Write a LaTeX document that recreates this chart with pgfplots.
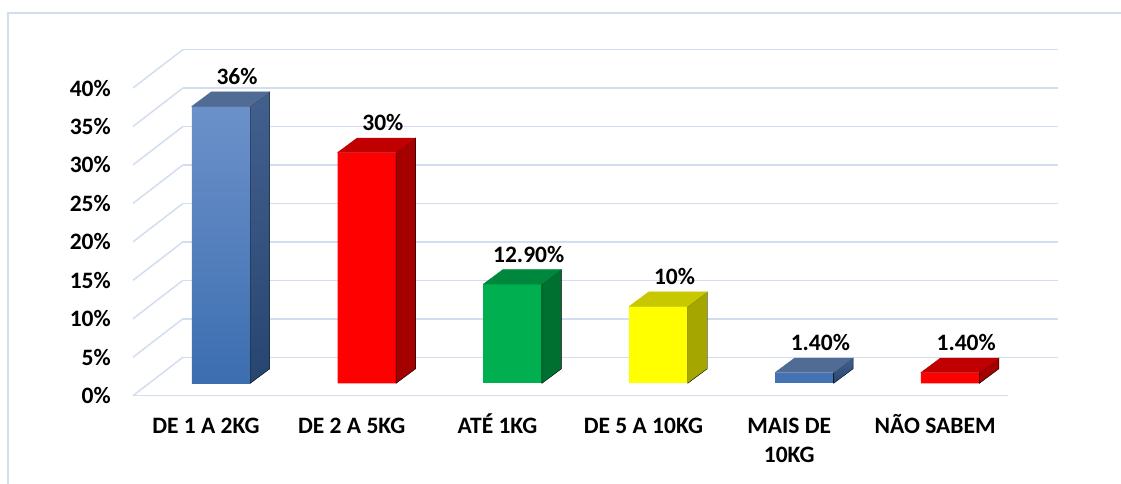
\documentclass[border=0pt]{standalone}
\usepackage{fontspec}
\setmainfont{Carlito}
\usepackage{pgfplots}
\usepackage{pgfplotstable}
\pgfplotsset{compat=1.18}

\definecolor{gridcol}{RGB}{210,222,240}
\definecolor{bfront1}{RGB}{108,145,202}
\definecolor{bfront2}{RGB}{60,110,176}
\definecolor{btop}{RGB}{80,108,148}
\definecolor{bside1}{RGB}{66,96,142}
\definecolor{bside2}{RGB}{38,70,112}
\definecolor{rfront}{RGB}{255,0,0}
\definecolor{rtop}{RGB}{192,0,0}
\definecolor{rside}{RGB}{165,0,0}
\definecolor{gfront}{RGB}{0,176,80}
\definecolor{gtop}{RGB}{0,135,62}
\definecolor{gside}{RGB}{0,112,48}
\definecolor{yfront}{RGB}{255,255,0}
\definecolor{ytop}{RGB}{200,200,0}
\definecolor{yside}{RGB}{166,166,0}

\pgfplotstableread{
x y lab
0 36 36\%
1 30 30\%
2 12.9 12.90\%
3 10 10\%
4 1.4 1.40\%
5 1.4 1.40\%
}\bardata

\pgfdeclareplotmark{bar3d}{%
  \pgfmathsetmacro{\h}{\rawy*7.6925}%
  \pgfmathtruncatemacro{\ci}{round(\rawx)}%
  \ifcase\ci\relax
    \def\tc{btop}\def\sa{bside1}\def\sb{bside2}%
  \or \def\tc{rtop}\def\sa{rside}\def\sb{rside}%
  \or \def\tc{gtop}\def\sa{gside}\def\sb{gside}%
  \or \def\tc{ytop}\def\sa{yside}\def\sb{yside}%
  \or \def\tc{btop}\def\sa{bside1}\def\sb{bside2}%
  \else \def\tc{rtop}\def\sa{rside}\def\sb{rside}%
  \fi
  \shade[top color=\sa, bottom color=\sb] (29.25bp,0bp) -- ++(19.5bp,14.5bp) -- ++(0bp,-\h bp) -- ++(-19.5bp,-14.5bp) -- cycle;
  \fill[\tc] (-29.25bp,0bp) -- (29.25bp,0bp) -- ++(19.5bp,14.5bp) -- ++(-58.5bp,0bp) -- cycle;
}

\newcommand{\st}{\rule{0pt}{20bp}}

\begin{document}
\begin{tikzpicture}[font=\bfseries\fontsize{23.6}{29}\selectfont]
\draw[gridcol, line width=1.5bp] (8bp,-10bp) -- (8bp,471bp) -- (1135bp,471bp);

% back wall
\begin{axis}[at={(183bp,126.7bp)}, anchor=south west, scale only axis,
  width=875bp, height=307.7bp, xmin=-0.5, xmax=5.5, ymin=0, ymax=40,
  xtick=\empty, ytick={0,5,...,40}, yticklabels={},
  ymajorgrids, grid style={gridcol, line width=1.5bp},
  axis line style={draw=none}, major tick length=0pt]
\end{axis}

% front plane: floor line, side diagonals, labels
\begin{axis}[at={(133bp,88.3bp)}, anchor=south west, scale only axis,
  width=875bp, height=307.7bp, xmin=-0.5, xmax=5.5, ymin=0, ymax=40,
  clip=false,
  axis x line*=bottom, axis y line*=left,
  x axis line style={gridcol, line width=1.5bp, -},
  y axis line style={draw=none},
  major tick length=0pt,
  xtick={0,1,2,3,4,5},
  xticklabels={\st DE 1 A 2KG, \st DE 2 A 5KG, \st ATÉ 1KG, \st DE 5 A 10KG, \st MAIS DE\\10KG, \st NÃO SABEM},
  xticklabel style={anchor=north, inner sep=0pt, yshift=-17.7bp, align=center},
  ytick={0,5,...,40},
  yticklabels={0\%,5\%,10\%,15\%,20\%,25\%,30\%,35\%,40\%},
  yticklabel style={anchor=east, inner sep=0pt, xshift=-22bp}]
\pgfplotsinvokeforeach{0,5,...,40}{
  \draw[gridcol, line width=1.5bp] (axis cs:-0.5,#1) -- ++(50bp,38.5bp);
}
\end{axis}

% bars
\begin{axis}[at={(148.1bp,100.7bp)}, anchor=south west, scale only axis,
  width=875bp, height=307.7bp, xmin=-0.5, xmax=5.5, ymin=0, ymax=40,
  hide axis, clip=false]
\addplot[ybar, bar shift=0pt, bar width=58.5bp, draw=none, top color=bfront1, bottom color=bfront2] coordinates {(0,36)};
\addplot[ybar, bar shift=0pt, bar width=58.5bp, draw=none, fill=bfront2!85!bfront1] coordinates {(4,1.4)};
\addplot[ybar, bar shift=0pt, bar width=58.5bp, draw=none, fill=rfront] coordinates {(1,30) (5,1.4)};
\addplot[ybar, bar shift=0pt, bar width=58.5bp, draw=none, fill=gfront] coordinates {(2,12.9)};
\addplot[ybar, bar shift=0pt, bar width=58.5bp, draw=none, fill=yfront] coordinates {(3,10)};
\addplot[only marks, mark=bar3d,
  visualization depends on={rawy \as \rawy},
  visualization depends on={rawx \as \rawx},
  point meta=explicit symbolic, nodes near coords,
  every node near coord/.append style={anchor=center, xshift=16bp, yshift=30bp, black}]
  table[x=x, y=y, meta=lab] {\bardata};
\end{axis}

\pgfresetboundingbox
\useasboundingbox (0,0) rectangle (1121bp,484bp);
\end{tikzpicture}
\end{document}
